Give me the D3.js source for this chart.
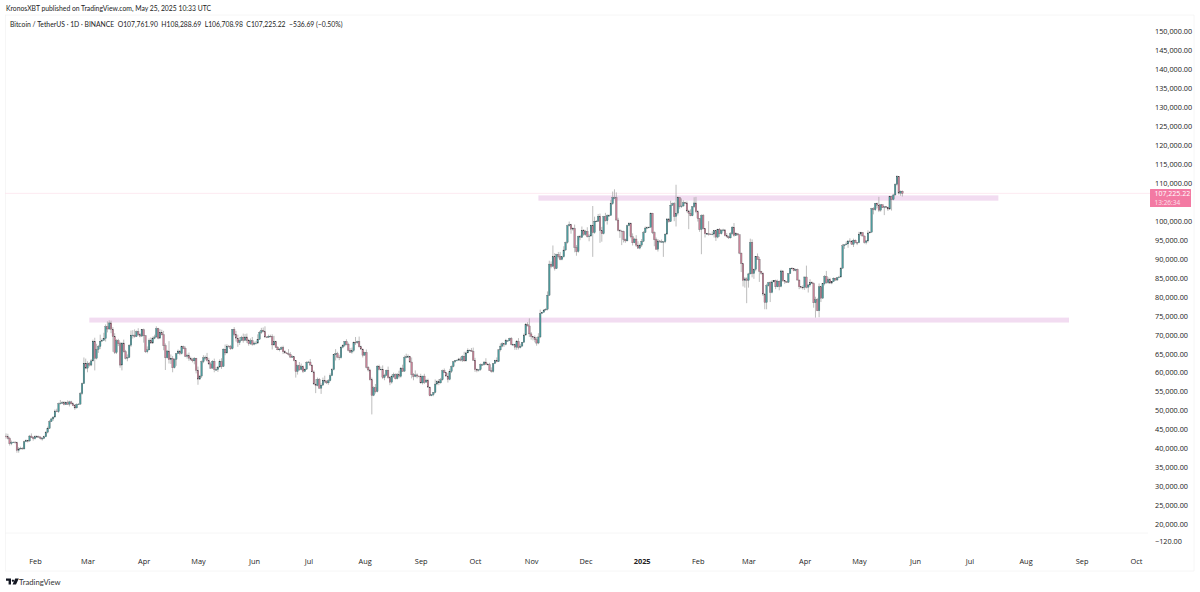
<!DOCTYPE html>
<html><head><meta charset="utf-8">
<script src="https://cdn.jsdelivr.net/npm/d3@7/dist/d3.min.js"></script>
<style>html,body{margin:0;padding:0;background:#fff}svg{display:block}text{font-family:"Open Sans","Liberation Sans",sans-serif}</style>
</head><body><svg id="c" width="1200" height="592"></svg>
<script>
const firstDay = "2024-01-16";
// daily closes, thousands of USDT
const closes = [
43.1,42.7,41.3,41.6,41.7,41.6,39.5,39.9,40.1,39.9,41.8,42.1,42.0,43.3,42.9,42.6,
43.1,43.2,43.0,42.6,42.7,43.1,44.3,45.3,47.1,47.8,48.3,49.9,49.7,51.8,52.0,52.1,51.6,52.1,51.7,52.3,51.8,51.3,50.7,51.6,51.7,54.5,57.1,62.5,61.2,
62.4,62.0,63.1,68.3,63.8,66.1,66.9,68.3,68.5,69.0,72.1,71.5,73.1,71.4,69.5,65.3,68.4,67.6,62.0,67.8,65.5,63.8,64.0,67.2,69.9,69.9,69.5,70.8,70.0,69.6,71.3,
69.7,65.5,66.0,68.5,67.8,69.0,69.4,71.6,69.1,70.6,70.0,67.1,63.9,65.7,63.4,63.8,61.3,63.5,65.0,65.7,65.0,66.8,66.4,64.3,64.5,63.8,63.4,63.1,63.8,60.6,
58.3,59.1,62.9,63.9,64.0,63.2,62.3,61.2,63.0,60.8,60.8,61.5,62.9,61.6,66.2,65.2,67.0,66.9,66.3,71.4,70.1,69.1,67.9,68.5,69.3,68.5,69.4,68.4,67.6,68.4,67.5,
67.8,67.8,68.8,70.6,71.1,70.8,69.4,69.3,69.6,69.5,67.3,68.2,66.7,66.0,66.2,66.6,65.5,65.2,65.0,64.8,64.1,64.2,63.2,60.3,61.8,60.8,61.6,60.3,60.9,62.7,
62.8,62.0,60.2,57.0,56.6,58.2,55.9,56.7,58.0,57.7,57.3,57.9,59.2,60.8,64.7,65.0,64.1,63.9,66.7,67.2,68.2,67.5,65.9,65.4,65.8,68.0,67.9,68.2,66.8,66.2,64.6,
65.3,61.4,60.7,58.1,54.0,56.0,55.0,61.7,60.8,60.9,58.7,59.3,60.6,58.7,57.5,58.9,59.5,58.4,59.5,59.0,61.2,60.4,64.0,64.2,64.2,62.8,59.5,59.0,59.4,59.1,58.9,
57.3,59.1,57.5,58.0,56.2,53.9,54.2,54.8,57.0,57.6,57.3,58.1,60.5,60.0,59.1,58.2,60.3,61.6,62.9,63.2,63.3,63.6,63.3,64.3,63.1,65.2,65.8,65.9,65.6,63.3,
60.8,60.6,60.8,62.1,62.1,62.8,62.2,62.1,60.6,60.3,62.4,63.2,62.9,66.0,67.0,67.6,67.4,68.4,68.4,69.0,67.4,67.4,66.7,68.2,66.6,67.0,68.0,69.9,72.7,72.3,70.2,
69.5,69.3,68.7,67.8,69.4,75.6,75.9,76.5,76.7,80.4,88.6,88.0,90.5,87.4,91.1,90.6,89.8,90.5,92.3,94.3,98.7,99.0,97.8,98.0,93.0,91.9,95.9,95.6,97.5,96.4,
97.2,95.8,96.0,98.8,96.9,99.9,99.9,101.2,97.4,96.6,101.1,100.0,101.4,101.4,104.5,106.1,106.1,100.2,97.5,97.3,97.2,95.1,94.7,98.7,99.4,95.8,94.2,95.2,93.6,92.8,93.6,
94.6,96.9,98.1,98.2,98.3,102.0,96.9,95.0,92.5,94.7,94.5,94.5,94.5,96.5,100.5,99.8,104.1,104.5,101.1,102.0,106.1,103.7,103.9,104.8,104.7,102.6,102.0,101.3,103.7,104.7,102.4,
100.6,97.7,101.4,97.9,96.6,96.6,96.5,96.4,96.5,97.4,95.7,97.8,96.6,97.5,97.6,96.1,95.8,95.5,96.6,98.3,96.1,96.6,96.3,91.5,88.7,84.3,84.7,84.3,
86.0,94.3,86.1,87.2,90.6,89.9,86.7,86.2,80.7,78.5,82.9,83.7,81.1,83.9,84.3,82.6,84.1,82.7,86.8,84.2,84.0,83.8,86.1,87.5,87.4,86.9,87.2,84.4,82.6,82.4,82.5,
85.2,82.5,83.1,83.8,83.5,78.4,79.2,76.3,82.6,79.6,83.4,85.3,83.7,84.5,83.6,84.0,84.9,84.4,85.0,85.2,87.5,93.4,93.7,93.9,94.7,94.6,93.8,94.9,94.3,94.2,
96.5,96.9,96.0,94.3,94.7,96.8,97.0,103.2,102.9,104.6,104.1,102.8,104.2,103.5,103.7,103.5,103.1,106.4,105.6,106.8,109.6,111.7,107.3,107.8,107.2];
// wick length above the candle body, thousands
const upperWicks = [
.7,.8,.4,.5,.2,.3,.2,.5,.4,.3,.3,.3,.2,.3,.7,.3,
.4,.3,.2,.3,.4,.3,.3,.5,.4,.3,.2,.4,.6,.3,.8,.4,.4,.3,.6,.3,.3,.3,.4,.3,.3,.4,.3,1.5,1.2,
.6,.4,.5,.4,.9,1.5,.4,1.7,.5,1.5,.6,1.4,.7,.6,.6,.9,.4,.5,.5,.2,.9,.5,.8,.3,1.2,1.3,1.5,.3,.9,.4,.2,
.3,.2,.9,.5,.8,.5,.6,.6,.2,.9,.7,1.0,.6,.3,2.6,1.0,.6,.3,.2,.4,.2,.3,.3,.5,.5,.8,.4,.5,.3,.1,
1.0,.3,.3,.7,.5,1.2,.7,.5,.3,.7,.7,.1,.6,.9,.2,1.2,.5,.3,.4,.1,.6,.9,.9,.9,.4,1.0,.8,.9,.5,.6,1.0,
.4,.5,1.3,.4,.7,.8,1.4,.2,.4,.4,.6,1.5,.2,.3,.3,.3,.5,.4,.2,1.2,.6,.4,.1,.1,.3,1.0,.8,.3,.2,.3,
.3,.8,.1,.4,1.3,.5,.4,.5,.7,1.2,.3,.4,.6,.4,.2,1.2,.5,.6,.3,.3,.1,.6,.4,.6,.8,.2,1.4,.2,1.3,.3,.2,
.2,.8,.3,.3,.6,.4,1.0,.3,.4,.7,1.0,.4,.2,1.0,.4,.6,.5,.3,.4,1.0,.3,.9,.5,.8,.6,.2,1.2,.4,1.2,.4,.2,
.8,.1,.6,.3,.4,.1,.1,.1,1.2,.4,.7,.5,.3,.6,.1,.8,.7,.3,.2,.1,.2,.3,.6,.3,1.2,.3,.6,.2,.6,1.0,
.6,.3,.1,.3,.3,.2,1.0,.4,.5,.8,.1,.2,.8,.2,.7,.4,.2,.5,.2,.2,.4,.2,.2,.4,.9,.6,.1,.4,.4,.6,2.0,
.5,.1,.5,.7,1.0,1.0,.1,.2,.3,1.0,.9,.7,3.0,1.0,.2,.7,1.2,.2,1.0,.2,.3,.8,.2,.3,1.0,.6,.2,.4,1.0,.3,
.4,1.1,.5,.2,5.1,1.2,.3,.6,.7,1.0,.2,1.0,.3,.3,1.0,1.6,2.2,1.4,.6,.3,.3,.2,.2,.3,.2,.1,.9,.3,1.0,1.0,.4,
.6,.4,.4,.3,.2,.2,.1,.3,.6,.5,.2,.6,.1,.2,.1,.1,1.2,.3,.5,7.5,.3,.2,2.0,.6,.2,.4,.3,1.0,.2,1.5,1.6,
.4,.1,.3,.4,.2,.2,3.3,.2,.7,.2,.2,.1,.3,.3,.3,.2,.7,.3,.4,.3,1.1,.4,.1,.1,.1,.1,.5,.4,
.3,1.0,.8,.2,.1,.8,.6,.1,.2,.3,.5,.2,.4,.5,.1,.2,.4,.2,.3,.1,.1,.1,.1,.1,.3,.1,.2,.2,.1,.2,.5,
.1,3.0,.2,.8,.2,.3,.8,.5,.9,.1,.1,.4,1.5,.6,.5,.1,.2,.1,.2,.3,.3,.5,.1,.7,.1,.7,.3,.4,.2,.1,
.6,.2,.1,.1,.2,.7,.3,.2,.4,.1,.2,2.2,.2,.1,.1,.1,.2,.2,.2,.3,.3,.3,.1,.2,.2];
// wick length below the candle body, thousands
const lowerWicks = [
.5,.3,.5,.4,.1,.3,.6,.6,.1,.2,.1,.1,.4,.2,.1,.5,
.2,.2,.1,.2,.5,.2,.1,.3,.1,.1,.5,.1,.1,.3,.2,.2,.2,.1,.2,.6,.2,.1,.5,.1,.1,.1,.3,.1,.3,
1.1,.4,.3,.2,3.2,.3,.9,.7,.2,.1,.8,.9,.2,1.0,4.0,.4,.4,.6,.7,1.4,.2,.3,.8,.1,.4,.9,.3,.1,.3,.3,.1,
1.8,.3,.4,.1,.2,.2,.2,.2,.3,.2,.2,1.2,3.2,.2,1.0,1.1,1.2,.2,1.7,.1,.4,.2,.2,.2,.6,.7,.2,.4,.9,.8,
1.5,.2,.5,.4,.6,.3,.3,.2,.2,.7,.2,.6,.2,.6,.1,.6,.2,.3,.3,.2,.5,.9,1.1,.6,.1,.6,.2,.6,.5,.3,.4,
.3,.4,.2,.2,.4,.2,.3,.2,.1,.2,1.2,.2,.2,.1,.4,.2,.6,.2,.1,.3,.2,.2,.2,1.6,.8,.3,.2,.4,.1,.1,
.2,.1,.1,.1,2.0,.2,.1,1.5,.1,.5,.3,.5,.2,.1,.2,1.5,.3,.6,.2,.3,.4,.3,.3,.2,.4,.4,.6,.3,.2,.1,.6,
.1,.3,.4,.2,5.0,.2,.5,.2,.2,.1,.4,.7,.1,.3,.8,.4,.3,.2,.2,.5,.3,.2,.2,.2,.3,.2,1.0,1.0,.2,.6,.1,
.2,.4,.5,.1,.2,.1,.1,.4,.2,.3,.6,.2,.2,.1,.1,.8,.2,.4,.2,.3,.2,.2,.3,.5,.2,.2,.1,.1,.1,.2,
.6,.5,.3,.3,.1,.2,.1,.1,.1,.3,.3,.1,.2,.1,.4,.3,.6,.2,.1,.1,.2,.2,.7,.7,.5,.2,.1,.2,.1,.1,.8,
.8,.8,.7,.7,.3,.3,.1,.1,.2,.3,.2,.5,.1,.5,.1,.5,.2,.2,.2,.2,.3,.2,1.2,.4,1.3,1.1,.3,.7,.1,.4,
.3,.2,1.2,.2,6.4,.3,.2,.2,3.2,2.1,.2,.2,1.0,.3,.1,.3,.3,.1,.3,1.8,3.6,.8,.5,.1,.1,.4,.7,.1,.5,.2,.3,
.5,.2,.1,.3,.1,.1,.4,1.7,.1,.6,.3,.2,4.0,.4,.1,.3,.1,.1,1.2,2.6,.6,.5,.3,.2,.2,.4,4.2,.1,.1,.3,.4,
.8,.6,6.5,.2,1.0,.1,.4,.1,.2,.9,1.0,.3,.8,.2,.3,.2,.2,.3,.2,.3,.3,.1,.2,.3,2.2,1.6,1.9,6.0,
1.9,.1,1.0,1.4,.5,.1,2.8,.4,.5,1.8,1.8,.2,2.5,.2,.1,.6,.1,1.0,.2,.3,.6,.1,.2,.1,.1,.2,.2,.1,.6,.2,.5,
.7,.3,1.4,.4,.1,1.3,3.9,.1,1.7,1.0,.1,.4,.3,.3,.2,.3,.1,.2,.2,.1,.2,.1,.8,.1,1.0,.3,.1,.7,.2,.6,
.1,.5,.1,.3,.5,.4,.1,.1,1.2,.3,.8,.5,.4,.1,2.0,.2,.5,.2,2.9,.2,.1,.3,.4,.7,.8];
const openFirst = 43.3;
const priceTicks = [150,145,140,135,130,125,120,115,110,100,95,90,85,80,75,70,65,60,55,50,45,40,35,30,25,20].map(d=>d*1000);
const lowerTick = -120;
const monthTicks = ["2024-02","2024-03","2024-04","2024-05","2024-06","2024-07","2024-08","2024-09","2024-10","2024-11","2024-12","2025-01","2025-02","2025-03","2025-04","2025-05","2025-06","2025-07","2025-08","2025-09","2025-10"];
const monthLabels = ["Feb","Mar","Apr","May","Jun","Jul","Aug","Sep","Oct","Nov","Dec","2025","Feb","Mar","Apr","May","Jun","Jul","Aug","Sep","Oct"];
const zoneStarts = ["2024-03-02","2024-11-05"];
const zoneEnds = ["2025-08-25","2025-07-17"];
const zoneTops = [74500,106700];
const zoneBottoms = [73200,105300];
const lastPrice = 107225.22;
const headerLine = "KronosXBT published on TradingView.com, May 25, 2025 10:33 UTC";
const legendLine = "Bitcoin / TetherUS · 1D · BINANCE  O107,761.90  H108,288.69  L106,708.98  C107,225.22  −536.69 (−0.50%)";

const svg = d3.select("#c");
const x = d3.scaleUtc().domain([new Date("2024-02-01"),new Date("2025-10-01")]).range([35,1136]);
const y = d3.scaleLinear().domain([lowerTick,20000,150000]).range([541,524.5,31]);
const day0 = new Date(firstDay+"T00:00:00Z").getTime();
const candles = closes.map((c,i)=>{
  const o = i? closes[i-1]: openFirst;
  const t = new Date(day0+i*864e5);
  return {t,o:o*1000,c:c*1000,h:(Math.max(o,c)+upperWicks[i])*1000,l:(Math.min(o,c)-lowerWicks[i])*1000};
});

// frame
const frame = svg.append("g").attr("stroke","#f4f4f4").attr("stroke-width",.8);
frame.append("line").attr("x1",5.5).attr("x2",5.5).attr("y1",15).attr("y2",571);
frame.append("line").attr("x1",1194).attr("x2",1194).attr("y1",15).attr("y2",571);
frame.append("line").attr("x1",5).attr("x2",1194).attr("y1",15).attr("y2",15);
frame.append("line").attr("x1",5).attr("x2",1148).attr("y1",533).attr("y2",533);
frame.append("line").attr("x1",5).attr("x2",1194).attr("y1",571).attr("y2",571);
svg.append("line").attr("x1",5).attr("x2",1150).attr("y1",y(lastPrice)).attr("y2",y(lastPrice)).attr("stroke","#fce6ee").attr("stroke-width",.8);

// zones
svg.append("g").selectAll("rect").data(zoneStarts).join("rect")
  .attr("x",d=>x(new Date(d))).attr("width",(d,i)=>x(new Date(zoneEnds[i]))-x(new Date(d)))
  .attr("y",(d,i)=>y(zoneTops[i])).attr("height",(d,i)=>y(zoneBottoms[i])-y(zoneTops[i]))
  .attr("fill","#f2dcf1");

// candles
const g = svg.append("g");
g.selectAll("line").data(candles).join("line")
  .attr("x1",d=>x(d.t)).attr("x2",d=>x(d.t)).attr("y1",d=>y(d.h)).attr("y2",d=>y(d.l))
  .attr("stroke","#a0a0a0").attr("stroke-width",.7);
g.selectAll("rect").data(candles).join("rect")
  .attr("x",d=>x(d.t)-.8).attr("width",1.6)
  .attr("y",d=>y(Math.max(d.o,d.c))).attr("height",d=>Math.max(.7,Math.abs(y(d.o)-y(d.c))))
  .attr("fill",d=>d.c>=d.o?"#4d9c9d":"#c98498")
  .attr("stroke","#3c3f44").attr("stroke-width",.25);

// axes
const yAxis = d3.axisRight(y).tickValues(priceTicks.concat([lowerTick])).tickSize(0)
  .tickFormat(d=>d<0?"−120.00":d3.format(",.2f")(d));
const ya = svg.append("g").attr("transform","translate(1155,0)").call(yAxis);
ya.select(".domain").remove();
ya.selectAll("text").attr("x",0).attr("font-size",7.3).attr("fill","#222").attr("text-anchor","start")
  .style("font-family",'"Open Sans",sans-serif');

const monthDates = monthTicks.map(m=>new Date(m+"-01T00:00:00Z"));
const xAxis = d3.axisBottom(x).tickValues(monthDates).tickSize(0)
  .tickFormat((d,i)=>monthLabels[i]);
const xa = svg.append("g").attr("transform","translate(0,559)").call(xAxis);
xa.select(".domain").remove();
xa.selectAll("text").attr("y",0).attr("font-size",7.4).attr("fill","#222")
  .style("font-family",'"Open Sans",sans-serif')
  .attr("font-weight",(d,i)=>monthLabels[i]==="2025"?700:400);

// header
const headFont = 'Lato,"Open Sans",sans-serif';
svg.append("text").attr("x",6).attr("y",11).attr("font-size",6.8).attr("fill","#222").style("font-family",headFont).text(headerLine);
svg.append("text").attr("x",10).attr("y",27).attr("font-size",6.8).attr("fill","#222").style("font-family",headFont).style("white-space","pre").text(legendLine);

// last price tag
svg.append("rect").attr("x",1150).attr("y",189).attr("width",41).attr("height",18).attr("fill","#f37aa3").attr("rx",.5);
svg.append("text").attr("x",1154.5).attr("y",195.5).attr("font-size",7).attr("fill","#fff").text(d3.format(",.2f")(lastPrice));
svg.append("text").attr("x",1154.5).attr("y",204.5).attr("font-size",6.5).attr("fill","#fde3ec").text("13:26:34");

// brand
const b = svg.append("g").attr("transform","translate(6,578.5)").attr("fill","#131722");
b.append("path").attr("d","M0 0h5v6H2.6V2.2H0zM6.9 1a1.1 1.1 0 1 0 .01 0zM9.2 0H12.8L10 6H6.6z");
svg.append("text").attr("x",19).attr("y",585).attr("font-size",7.7).attr("fill","#333").style("font-family",headFont).text("TradingView");
</script></body></html>
